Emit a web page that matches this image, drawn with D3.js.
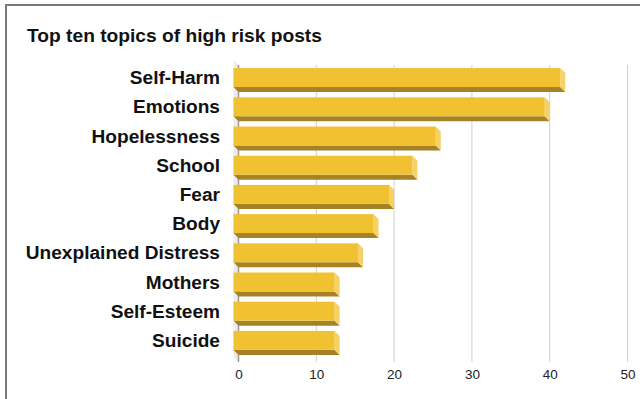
<!DOCTYPE html>
<html>
<head>
<meta charset="utf-8">
<script src="https://cdn.jsdelivr.net/npm/d3@7"></script>
<style>
  html, body { margin: 0; padding: 0; background: #fff; }
  svg { display: block; }
</style>
</head>
<body>
<svg id="chart" width="640" height="399"></svg>
<script>
// Topics and post counts
const categories = ["Self-Harm", "Emotions", "Hopelessness", "School", "Fear", "Body",
  "Unexplained Distress", "Mothers", "Self-Esteem", "Suicide"];
const counts = [42, 40, 26, 23, 20, 18, 16, 13, 13, 13];
const tickValues = [0, 10, 20, 30, 40, 50];
const title = "Top ten topics of high risk posts";

const svg = d3.select("#chart");
const depth = 5; // 3D extrusion offset

const x = d3.scaleLinear().domain([0, 50]).range([238.5, 627.5]);
const y = d3.scaleBand().domain(categories).range([63, 355])
  .paddingInner(0.35).paddingOuter(0.175);

const gridTop = 65, gridBottom = 362;

// outer frame
svg.append("rect").attr("x", 6).attr("y", 5).attr("width", 660).attr("height", 420)
  .attr("fill", "none").attr("stroke", "#7a7a7a").attr("stroke-width", 2);

// title
svg.append("text").attr("x", 27).attr("y", 42)
  .attr("font-family", "Liberation Sans, Arial, sans-serif")
  .attr("font-weight", "bold").attr("font-size", 19.2).attr("fill", "#111")
  .text(title);

// back wall on the left
svg.append("polygon")
  .attr("points", [[x(0) - depth, gridTop - depth], [x(0), gridTop], [x(0), gridBottom], [x(0) - depth, gridBottom - depth]].join(" "))
  .attr("fill", "#ececec");

// gridlines
svg.append("g").selectAll("line").data(tickValues.filter(d => d > 0)).join("line")
  .attr("x1", d => x(d)).attr("x2", d => x(d))
  .attr("y1", gridTop).attr("y2", gridBottom)
  .attr("stroke", "#cfcfcf").attr("stroke-width", 1);

// zero axis line
svg.append("line").attr("x1", x(0)).attr("x2", x(0)).attr("y1", gridTop).attr("y2", gridBottom)
  .attr("stroke", "#9a9a9a").attr("stroke-width", 1.5);

// x axis labels
const xAxis = d3.axisBottom(x).tickValues(tickValues).tickSize(0).tickPadding(0);
const ax = svg.append("g").attr("transform", `translate(0,${gridBottom + 7})`).call(xAxis);
ax.select(".domain").remove();
ax.selectAll("text").attr("font-family", "Liberation Sans, Arial, sans-serif")
  .attr("font-size", 13.5).attr("fill", "#222").attr("dy", "0.75em");

// bars
const rows = categories.map((c, i) => ({ c, v: counts[i] }));
const bars = svg.append("g").selectAll("g").data(rows).join("g");

// bottom face
bars.append("polygon")
  .attr("points", d => {
    const x0 = x(0) - depth, x1 = x(d.v) - depth, b = y(d.c) + y.bandwidth();
    return [[x0, b], [x1, b], [x1 + depth, b + depth], [x0 + depth, b + depth]].join(" ");
  })
  .attr("fill", "#a58224");

// side face
bars.append("polygon")
  .attr("points", d => {
    const x1 = x(d.v) - depth, t = y(d.c), b = t + y.bandwidth();
    return [[x1, t], [x1 + depth, t + depth], [x1 + depth, b + depth], [x1, b]].join(" ");
  })
  .attr("fill", "#f6d166");

// front face
bars.append("rect")
  .attr("x", x(0) - depth)
  .attr("y", d => y(d.c))
  .attr("width", d => x(d.v) - x(0))
  .attr("height", y.bandwidth())
  .attr("fill", "#f0c232");

// category labels
svg.append("g").selectAll("text").data(categories).join("text")
  .attr("x", 220).attr("y", d => y(d) + y.bandwidth() / 2)
  .attr("dy", "0.35em").attr("text-anchor", "end")
  .attr("font-family", "Liberation Sans, Arial, sans-serif")
  .attr("font-weight", "bold").attr("font-size", 19.1).attr("fill", "#111")
  .text(d => d);
</script>
</body>
</html>
